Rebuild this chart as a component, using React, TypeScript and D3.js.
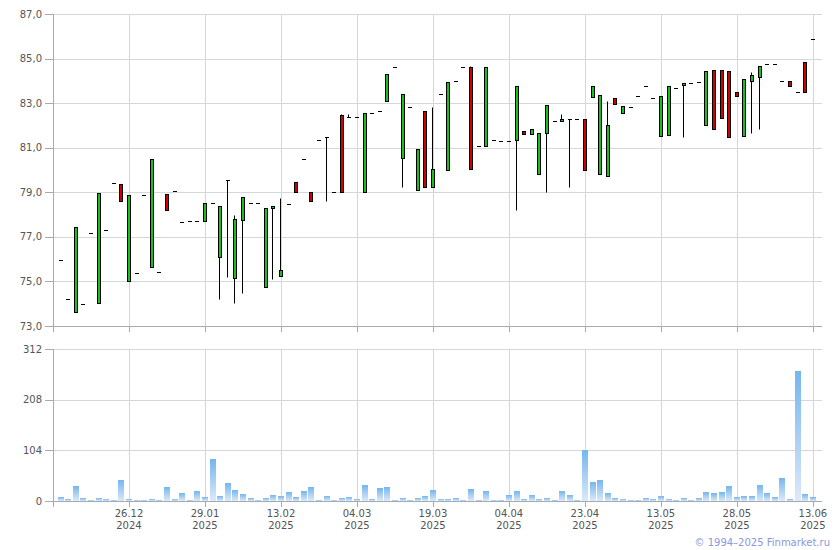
import React from "react";
import * as d3 from "d3";

const opens = [75.95,74.2,73.61,74.0,77.16,74.02,77.3,79.4,79.36,75.0,
 75.36,78.86,75.66,75.41,78.91,79.04,77.65,77.7,77.7,77.7,
 78.5,76.11,79.53,75.14,77.74,78.5,78.5,74.74,78.28,75.23,
 78.46,79.47,80.49,79.0,81.34,81.46,79.0,82.45,82.36,82.36,
 79.0,82.58,82.63,83.08,84.6,80.52,82.81,79.09,82.63,79.22,
 83.4,80.0,83.98,84.6,84.6,81.06,81.06,81.33,81.3,81.3,
 81.34,81.76,81.6,79.8,81.64,82.18,82.18,82.27,82.27,82.27,
 83.26,79.8,79.72,83.21,82.58,82.83,83.3,83.79,83.21,81.51,
 81.55,83.66,83.8,83.89,83.93,82.0,84.47,84.47,84.42,83.48,
 81.51,83.98,84.16,84.75,84.75,83.98,83.98,83.5,84.83,85.86];

const closes = [75.95,74.2,77.45,74.0,77.16,78.95,77.3,79.4,78.6,78.9,
 75.36,78.86,80.48,75.41,78.19,79.04,77.65,77.7,77.7,78.5,
 78.5,78.37,79.53,77.79,78.8,78.5,78.5,78.28,78.37,75.5,
 78.46,79.0,80.49,78.6,81.34,81.46,79.0,79.0,82.36,82.36,
 82.58,82.58,82.63,84.29,84.6,83.4,82.81,80.93,79.22,80.03,
 83.4,83.96,83.98,84.6,80.03,81.06,84.6,81.33,81.3,81.3,
 83.75,81.6,81.85,81.64,82.9,82.18,82.27,82.27,82.27,79.98,
 83.78,83.35,82.0,82.94,82.86,82.83,83.3,83.79,83.21,83.3,
 83.75,83.66,83.89,83.89,83.93,84.42,81.82,82.32,81.47,83.3,
 84.07,84.25,84.65,84.75,84.75,83.98,83.75,83.5,83.48,85.86];

const highs = [75.95,74.2,77.45,74.0,77.16,78.95,77.3,79.4,79.36,78.9,
 75.36,78.86,80.48,75.41,78.91,79.04,77.65,77.7,77.7,78.5,
 78.5,78.37,79.53,77.97,78.8,78.5,78.5,78.28,78.37,78.73,
 78.46,79.47,80.49,79.0,81.34,81.46,79.0,82.5,82.5,82.36,
 82.58,82.58,82.63,84.29,84.6,83.4,82.81,80.93,82.63,82.81,
 83.4,83.96,83.98,84.6,84.65,81.06,84.6,81.33,81.3,81.3,
 83.75,81.76,81.85,81.64,82.9,82.18,82.5,82.27,82.27,82.27,
 83.78,83.35,83.08,83.21,82.86,82.83,83.3,83.79,83.21,83.3,
 83.75,83.66,83.89,83.89,83.93,84.42,84.47,84.47,84.42,83.48,
 84.07,84.38,84.65,84.75,84.75,83.98,83.98,83.5,84.83,85.86];

const lows = [75.95,74.2,73.61,74.0,77.16,74.02,77.3,79.4,78.6,75.0,
 75.36,78.86,75.66,75.41,78.19,79.04,77.65,77.7,77.7,77.7,
 78.5,74.22,75.18,74.02,74.5,78.5,78.5,74.74,75.1,75.23,
 78.46,79.0,80.49,78.6,81.34,78.62,79.0,79.0,82.36,82.36,
 79.0,82.58,82.63,83.08,84.6,79.25,82.81,79.09,79.22,79.22,
 83.4,80.0,83.98,84.6,80.03,81.06,81.06,81.33,81.3,81.3,
 78.2,81.6,81.6,79.8,79.0,82.18,82.18,79.22,82.27,79.98,
 83.26,79.8,79.72,82.94,82.58,82.83,83.3,83.79,83.21,81.51,
 81.55,83.66,81.49,83.89,83.93,82.0,81.82,82.32,81.47,83.3,
 81.51,81.67,81.82,84.75,84.75,83.98,83.75,83.5,83.48,85.86];

const volumes = [9,4,31.5,7,3,7,5,3,44,5,
 3,3,5,3,29.5,5,17,3,21,9,
 87,11,37.6,23,15,7,3,7,13,11,
 19,9,21,29.5,3,11,3,7,9,5,
 33.5,5,27.4,29.5,3,7,3,7,11,23,
 5,5,7,3,25.3,3,21,3,3,13,
 21,5,13,5,7,3,21,13,3,104,
 39.7,44,17,7,5,3,3,7,5,11,
 5,3,7,3,7,19,17,19,31.5,9,
 11,11,33.5,17,9,48,5,267.5,15,9];

const tickIndices = [9, 19, 29, 39, 49, 59, 69, 79, 89, 99];
const tickDays = ["26.12", "29.01", "13.02", "04.03", "19.03", "04.04", "23.04", "13.05", "28.05", "13.06"];
const tickYears = ["2024", "2025", "2025", "2025", "2025", "2025", "2025", "2025", "2025", "2025"];

const priceTicks = [73, 75, 77, 79, 81, 83, 85, 87];
const volumeTicks = [0, 104, 208, 312];

const LEFT = 53;
const RIGHT = 822;
const P_TOP = 14;
const P_BOTTOM = 326;
const V_TOP = 349;
const V_BOTTOM = 501;

const GRID = "#d4d8dc";
const AXIS = "#a6aab2";
const TEXT = "#555";
const GREEN = "#17c317";
const RED = "#d00000";
const FONT = "'DejaVu Sans', Verdana, sans-serif";

export default function App() {
  const x = d3.scaleLinear().domain([-1, 100.2]).range([LEFT, RIGHT]);
  const yP = d3.scaleLinear().domain([73, 87]).range([P_BOTTOM, P_TOP]);
  const yV = d3.scaleLinear().domain([0, 312]).range([V_BOTTOM, V_TOP]);
  const fmt = (v: number) => v.toFixed(1).replace(".", ",");
  const r = (v: number) => Math.round(v) + 0.5;

  return (
    <svg width={840} height={550} style={{ position: "absolute", left: 0, top: 0, background: "#fff" }}
      fontFamily={FONT}>
      <defs>
        <linearGradient id="vg" x1="0" y1="0" x2="0" y2="1">
          <stop offset="0%" stopColor="#74b6ee" />
          <stop offset="100%" stopColor="#dde9f8" />
        </linearGradient>
      </defs>
      <rect x={0} y={0} width={840} height={550} fill="#fff" />

      {/* price grid */}
      {priceTicks.map((t) => (
        <g key={"pg" + t}>
          <line x1={LEFT - 8} x2={t === 73 ? RIGHT : RIGHT} y1={r(yP(t))} y2={r(yP(t))}
            stroke={t === 73 ? AXIS : GRID} />
          <line x1={LEFT - 8} x2={LEFT} y1={r(yP(t))} y2={r(yP(t))} stroke={AXIS} />
          <text x={42} y={yP(t) + 3.5} textAnchor="end" fontSize={10} fill={TEXT}>{fmt(t)}</text>
        </g>
      ))}
      {tickIndices.map((ti) => (
        <g key={"pv" + ti}>
          <line x1={r(x(ti))} x2={r(x(ti))} y1={P_TOP} y2={P_BOTTOM} stroke={GRID} />
          <line x1={r(x(ti))} x2={r(x(ti))} y1={P_BOTTOM} y2={P_BOTTOM + 6} stroke={AXIS} />
        </g>
      ))}
      <line x1={LEFT + 0.5} x2={LEFT + 0.5} y1={P_TOP} y2={P_BOTTOM + 6} stroke={AXIS} />

      {/* volume grid */}
      {volumeTicks.map((t) => (
        <g key={"vg" + t}>
          <line x1={LEFT - 8} x2={RIGHT} y1={r(yV(t))} y2={r(yV(t))} stroke={t === 0 ? AXIS : GRID} />
          <line x1={LEFT - 8} x2={LEFT} y1={r(yV(t))} y2={r(yV(t))} stroke={AXIS} />
          <text x={42} y={yV(t) + 3.5} textAnchor="end" fontSize={10} fill={TEXT}>{t}</text>
        </g>
      ))}
      {tickIndices.map((ti, k) => (
        <g key={"vv" + ti}>
          <line x1={r(x(ti))} x2={r(x(ti))} y1={V_TOP} y2={V_BOTTOM} stroke={GRID} />
          <line x1={r(x(ti))} x2={r(x(ti))} y1={V_BOTTOM} y2={V_BOTTOM + 6} stroke={AXIS} />
          <text x={x(ti)} y={517} textAnchor="middle" fontSize={10} fill={TEXT}>{tickDays[k]}</text>
          <text x={x(ti)} y={529} textAnchor="middle" fontSize={10} fill={TEXT}>{tickYears[k]}</text>
        </g>
      ))}
      <line x1={LEFT + 0.5} x2={LEFT + 0.5} y1={V_TOP} y2={V_BOTTOM + 6} stroke={AXIS} />

      {/* volume bars */}
      {volumes.map((v, i) => {
        const px = Math.round(x(i));
        const top = Math.round(yV(v));
        return (
          <rect key={"v" + i} x={px - 3} y={top} width={6} height={Math.max(0, V_BOTTOM - top)}
            fill="url(#vg)" />
        );
      })}

      {/* candles */}
      {opens.map((o, i) => {
        const c = closes[i];
        const h = highs[i];
        const l = lows[i];
        const px = Math.round(x(i));
        const wx = px - 0.5;
        const yTop = r(yP(Math.max(o, c)));
        const yBot = r(yP(Math.min(o, c)));
        const items: any[] = [];
        if (h > l) {
          items.push(<line key="w" x1={wx} x2={wx} y1={r(yP(h))} y2={r(yP(l))} stroke="#000" />);
        }
        if (yBot - yTop < 1) {
          items.push(<line key="d" x1={px - 2} x2={px + 2} y1={yTop} y2={yTop} stroke="#000" />);
        } else {
          items.push(
            <rect key="b" x={px - 1.5} y={yTop} width={3} height={yBot - yTop}
              fill={c >= o ? GREEN : RED} stroke="#000" strokeWidth={1} />
          );
        }
        return <g key={"c" + i}>{items}</g>;
      })}

      <text x={830} y={546} textAnchor="end" fontSize={10} fill="#8a98dc">© 1994–2025 Finmarket.ru</text>
    </svg>
  );
}
